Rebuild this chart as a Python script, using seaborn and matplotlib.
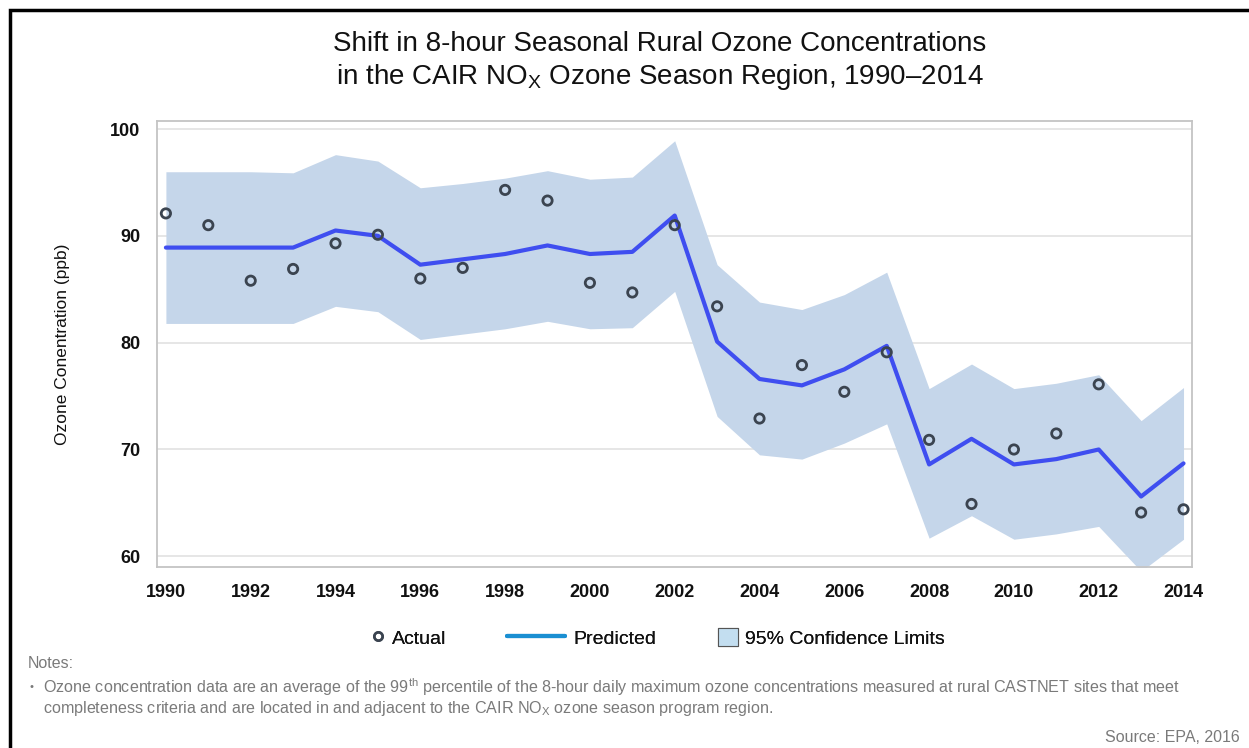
import matplotlib
matplotlib.use("Agg")
import matplotlib.pyplot as plt
import matplotlib.patches as mpatches
from matplotlib.lines import Line2D
import pandas as pd
import seaborn as sns

years = list(range(1990, 2015))
actual = [92.1, 91.0, 85.8, 86.9, 89.3, 90.1, 86.0, 87.0, 94.3, 93.3, 85.6, 84.7, 91.0,
          83.4, 72.9, 77.9, 75.4, 79.1, 70.9, 64.9, 70.0, 71.5, 76.1, 64.1, 64.4]
predicted = [88.9, 88.9, 88.9, 88.9, 90.5, 90.0, 87.3, 87.8, 88.3, 89.1, 88.3, 88.5, 91.9,
             80.1, 76.6, 76.0, 77.5, 79.7, 68.6, 71.0, 68.6, 69.1, 70.0, 65.6, 68.7]
upper = [96.0, 96.0, 96.0, 95.9, 97.6, 97.0, 94.5, 94.9, 95.4, 96.1, 95.3, 95.5, 98.9,
         87.3, 83.8, 83.1, 84.5, 86.6, 75.7, 78.0, 75.7, 76.2, 77.0, 72.7, 75.8]
lower = [81.8, 81.8, 81.8, 81.8, 83.4, 82.9, 80.3, 80.8, 81.3, 82.0, 81.3, 81.4, 84.8,
         73.1, 69.5, 69.1, 70.6, 72.4, 61.7, 63.8, 61.6, 62.1, 62.8, 58.6, 61.6]

df = pd.DataFrame({"year": years, "actual": actual, "predicted": predicted,
                   "upper": upper, "lower": lower})

sns.set_style("white")
plt.rcParams["font.family"] = ["Liberation Sans", "DejaVu Sans"]
plt.rcParams["mathtext.fontset"] = "custom"
plt.rcParams["mathtext.rm"] = "Liberation Sans"
plt.rcParams["mathtext.it"] = "Liberation Sans:italic"
plt.rcParams["mathtext.bf"] = "Liberation Sans:bold"
plt.rcParams["text.color"] = "#111111"

fill_color = "#c5d6ea"
line_color = "#3f4ef0"
marker_edge = "#3b4450"

W, H = 1249, 748
fig = plt.figure(figsize=(W / 100, H / 100), dpi=100)
ax = fig.add_axes([157 / W, 1 - 567 / H, (1192 - 157) / W, (567 - 121) / H])

ax.fill_between(df.year, df.lower, df.upper, color=fill_color, lw=0, zorder=1)
sns.lineplot(data=df, x="year", y="predicted", ax=ax, color=line_color, lw=3, zorder=3)
sns.scatterplot(data=df, x="year", y="actual", ax=ax, marker="o", s=45,
                facecolor="none", edgecolor=marker_edge, linewidth=2, zorder=4)

ax.set_xlim(1989.79, 2014.2)
ax.set_ylim(59.0, 100.75)
ax.set_xticks(range(1990, 2015, 2))
ax.set_yticks([60, 70, 80, 90, 100])
ax.yaxis.grid(True, color="#e4e4e4", lw=1.3, zorder=0)
ax.set_axisbelow(True)
for s in ax.spines.values():
    s.set_color("#c4c4c4")
    s.set_linewidth(1.3)
ax.tick_params(axis="both", direction="out", length=7, width=1, color="#b0b0b0",
               labelsize=13, pad=5, labelcolor="#111111")
for lab in ax.get_xticklabels() + ax.get_yticklabels():
    lab.set_fontweight("bold")
ax.set_xlabel("")
ax.set_ylabel("Ozone Conentration (ppb)", fontsize=12.5, labelpad=29, color="#111111")

fig.text(0.528, 1 - 44 / H, "Shift in 8-hour Seasonal Rural Ozone Concentrations",
         ha="center", va="center", fontsize=20)
fig.text(0.528, 1 - 77 / H,
         r"in the CAIR NO$_{\mathrm{X}}$ Ozone Season Region, 1990–2014",
         ha="center", va="center", fontsize=20)

# legend entries placed one by one so spacing follows the reference
legend_y = 1 - 638 / H
entries = [
    (Line2D([], [], marker="o", ls="none", markersize=6, markerfacecolor="none",
            markeredgecolor=marker_edge, markeredgewidth=1.8), "Actual", 370, 0.8, 0.35),
    (Line2D([], [], color="#1a8fd2", lw=3), "Predicted", 507, 3.0, 0.4),
    (mpatches.Patch(facecolor="#c3def0", edgecolor="#555555", lw=0.8),
     "95% Confidence Limits", 718, 1.03, 0.36),
]
for handle, label, x0, hl, pad in entries:
    leg = fig.legend([handle], [label], loc="center left",
                     bbox_to_anchor=(x0 / W, legend_y), frameon=False, fontsize=14,
                     handlelength=hl, handleheight=1.03, handletextpad=pad,
                     borderpad=0, borderaxespad=0)
    fig.add_artist(leg)

gray = "#7a7a7a"
fig.text(28 / W, 1 - 663 / H, "Notes:", fontsize=11.5, color=gray, va="center")
fig.text(30 / W, 1 - 687 / H, "•", fontsize=8, color=gray, va="center")
fig.text(43 / W, 1 - 687 / H,
         r"Ozone concentration data are an average of the 99$^{\mathrm{th}}$ percentile of the "
         "8-hour daily maximum ozone concentrations measured at rural CASTNET sites that meet",
         fontsize=11.6, color=gray, va="center")
fig.text(43 / W, 1 - 708 / H,
         r"completeness criteria and are located in and adjacent to the CAIR NO$_{\mathrm{X}}$ "
         "ozone season program region.",
         fontsize=11.6, color=gray, va="center")
fig.text(1240 / W, 1 - 738 / H, "Source: EPA, 2016", fontsize=11.5, color=gray,
         ha="right", va="center")

fig.add_artist(mpatches.Rectangle((10 / W, -0.2), 1.2, 1.2 - 10 / H,
                                  transform=fig.transFigure, fill=False,
                                  edgecolor="black", lw=2.5))

fig.savefig("out.png", dpi=100)
